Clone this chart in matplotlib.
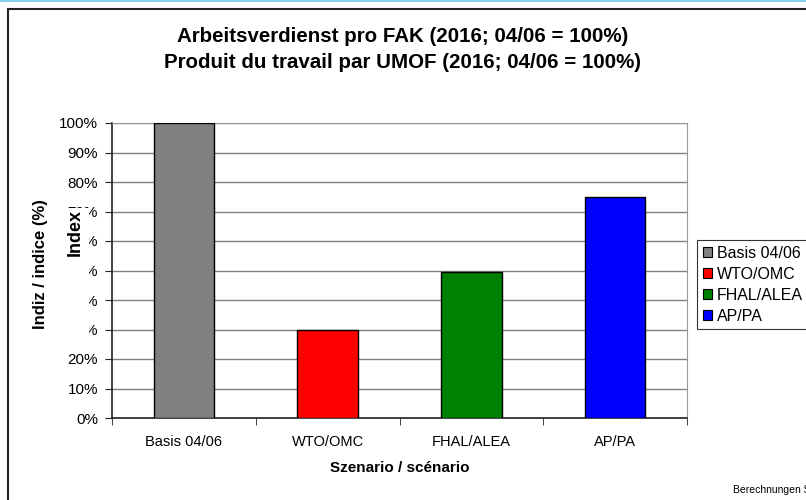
import matplotlib.pyplot as plt
from matplotlib.patches import Rectangle

plt.rcParams['font.family'] = ['Liberation Sans', 'DejaVu Sans']

# Data
scenarios = ['Basis 04/06', 'WTO/OMC', 'FHAL/ALEA', 'AP/PA']
index_values = [100, 30, 49.5, 75]
colors = ['#808080', '#FF0000', '#008000', '#0000FF']
y_ticks = [0, 10, 20, 30, 40, 50, 60, 70, 80, 90, 100]

fig = plt.figure(figsize=(8.06, 5.0), dpi=100)
W, H = 806, 500

# outer frame + thin blue line on top
fig.patches.append(Rectangle((0, 1 - 2 / H), 1, 2 / H, transform=fig.transFigure,
                             facecolor='#87CEEB', edgecolor='none', zorder=0))
fig.patches.append(Rectangle((8 / W, -0.1), 1.2, 1.1 - 9 / H, transform=fig.transFigure,
                             facecolor='none', edgecolor='#222222', linewidth=1.5, zorder=0))

ax = fig.add_axes([112 / W, 1 - 418 / H, (687 - 112) / W, (418 - 123) / H])
x = range(len(scenarios))
ax.bar(x, index_values, width=0.42, color=colors, edgecolor='black',
       linewidth=1, zorder=3)

ax.set_xlim(-0.5, len(scenarios) - 0.5)
ax.set_ylim(0, 100)
ax.set_yticks(y_ticks)
ax.set_yticklabels([f'{v}%' for v in y_ticks], fontsize=11)
ax.set_xticks(list(x))
ax.set_xticklabels(scenarios, fontsize=10.5)
ax.set_xticks([i - 0.5 for i in range(len(scenarios) + 1)], minor=True)
ax.tick_params(axis='x', which='major', length=0, pad=12)
ax.tick_params(axis='x', which='minor', length=5, direction='out', color='#222222')
ax.tick_params(axis='y', length=5, direction='out', color='#222222', pad=5)
ax.yaxis.grid(True, color='#808080', linewidth=1, zorder=0)
ax.set_axisbelow(True)
for side in ['top', 'right']:
    ax.spines[side].set_color('#999999')
for side in ['left', 'bottom']:
    ax.spines[side].set_color('#222222')
    ax.spines[side].set_linewidth(1.2)

ax.set_xlabel('Szenario / scénario', fontsize=11, fontweight='bold', labelpad=9)

fig.text(0.5, 1 - 36 / H, 'Arbeitsverdienst pro FAK (2016; 04/06 = 100%)',
         ha='center', va='center', fontsize=14.8, fontweight='bold')
fig.text(0.5, 1 - 62 / H, 'Produit du travail par UMOF (2016; 04/06 = 100%)',
         ha='center', va='center', fontsize=14.8, fontweight='bold')

fig.text(40 / W, 1 - 264 / H, 'Indiz / indice (%)', rotation=90, ha='center',
         va='center', fontsize=12, fontweight='bold')

# white box of the inner axis title covering part of the tick labels
fig.patches.append(Rectangle((62 / W, 1 - 342 / H), 27 / W, 134 / H,
                             transform=fig.transFigure, facecolor='white',
                             edgecolor='none', zorder=5))
fig.text(75 / W, 1 - 232 / H, 'Index', rotation=90, ha='center', va='center',
         fontsize=13, fontweight='bold', zorder=6)

handles = [Rectangle((0, 0), 1, 1, facecolor=c, edgecolor='black', linewidth=0.8)
           for c in colors]
leg = fig.legend(handles, scenarios, loc='upper left',
                 bbox_to_anchor=(697 / W, 1 - 240 / H), fontsize=11.5,
                 frameon=True, fancybox=False, edgecolor='black',
                 handlelength=0.6, handleheight=0.6, handletextpad=0.3,
                 labelspacing=0.38, borderpad=0.35, borderaxespad=0)
leg.get_frame().set_linewidth(0.8)

fig.text(733 / W, 1 - 490 / H, 'Berechnungen SBV', ha='left', va='center', fontsize=7.5)

fig.savefig('out.png', dpi=100)
